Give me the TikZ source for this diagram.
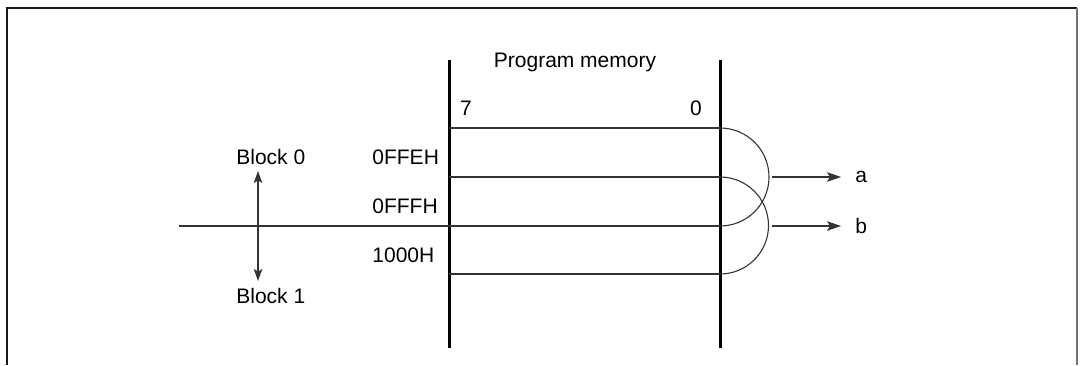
\documentclass[tikz,border=0pt]{standalone}
\usepackage{fontspec}
\setmainfont{Liberation Sans}
\usetikzlibrary{arrows.meta}

\begin{document}
\begin{tikzpicture}[
			x=0.5pt,y=-0.5pt,
			label/.style={
				inner sep=0pt,
				font=\fontsize{10.5}{12}\selectfont
			},
			rail/.style={
				line width=1.5pt,
				draw=black
			},
			wire/.style={
				line width=0.55pt,
				draw=black!80
			},
			flow/.style={
				-{Stealth[length=7pt,width=4.8pt,inset=1.5pt]},
				line width=0.55pt,
				draw=black!80
			}
			]
			
			\useasboundingbox (0,0) rectangle (1080,365);
			
			% Frame
			\draw[line width=0.9pt,draw=black!90] (7,365) -- (7,8) -- (1077,8);
			\draw[line width=0.9pt,draw=black!55] (1077,8) -- (1077,365);
			
			% Rails
			\coordinate (lt) at (449,60);
			\coordinate (lb) at (449,348);
			\coordinate (rt) at (720,60);
			\coordinate (rb) at (720,348);
			\draw[rail] (lt) -- (lb);
			\draw[rail] (rt) -- (rb);
			
			% Row ends
			\coordinate (l1) at (449,128);
			\coordinate (r1) at (720,128);
			\coordinate (l2) at (449,177);
			\coordinate (r2) at (720,177);
			\coordinate (l3) at (179,226);
			\coordinate (r3) at (720,226);
			\coordinate (l4) at (449,274);
			\coordinate (r4) at (720,274);
			
			% Labels
			\node[label] (prog) at (575,62) {Program memory};
			\node[label] (bitseven) at (466,108) {7};
			\node[label] (bitzero) at (696,108) {0};
			\node[label,anchor=west] (blkzero) at (236,157) {Block 0};
			\node[label,anchor=west] (blkone) at (236,296) {Block 1};
			\node[label,anchor=west] (addrfe) at (372,157) {0FFEH};
			\node[label,anchor=west] (addrff) at (372,206) {0FFFH};
			\node[label,anchor=west] (addrk) at (372,255) {1000H};
			\node[label,anchor=west,inner xsep=7pt] (outa) at (841,177) {a};
			\node[label,anchor=west,inner xsep=7pt] (outb) at (841,226) {b};
			
			% Rows
			\draw[wire] (l1) -- (r1);
			\draw[wire] (l2) -- (r2);
			\draw[wire] (l3) -- (r3);
			\draw[wire] (l4) -- (r4);
			
			% Loops
			\draw[wire] (r1) arc[start angle=-90,end angle=90,radius=49];
			\draw[wire] (r2) arc[start angle=-90,end angle=90,radius=48.5];
			
			% Outputs
			\coordinate (sa) at (772,177);
			\coordinate (sb) at (772,226);
			\draw[flow] (sa) -- (outa.west);
			\draw[flow] (sb) -- (outb.west);
			
			% Block boundary
			\coordinate (bu) at (258,171);
			\coordinate (bd) at (258,281);
			\draw[flow,{Stealth[length=6pt,width=4.2pt,inset=1.3pt]}-{Stealth[length=6pt,width=4.2pt,inset=1.3pt]}] (bu) -- (bd);
			
		\end{tikzpicture}
\end{document}
